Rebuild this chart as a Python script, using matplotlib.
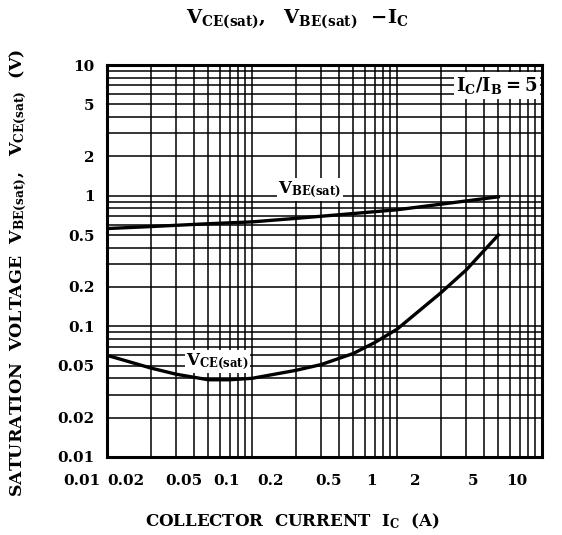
import matplotlib
matplotlib.use('Agg')
import matplotlib.pyplot as plt
import matplotlib.transforms as mtransforms
from matplotlib.ticker import FixedLocator, NullFormatter
import numpy as np

plt.rcParams['font.family'] = 'DejaVu Serif'
plt.rcParams['font.weight'] = 'bold'
plt.rcParams['mathtext.fontset'] = 'dejavuserif'

# collector current (A) and saturation voltages (V)
ic_vbe = [0.01, 0.02, 0.05, 0.1, 0.2, 0.5, 1, 2, 5]
vbe_sat = [0.56, 0.58, 0.61, 0.63, 0.67, 0.73, 0.78, 0.86, 0.98]

ic_vce = [0.01, 0.02, 0.03, 0.05, 0.07, 0.1, 0.2, 0.3, 0.5, 0.7, 1, 2, 3, 5]
vce_sat = [0.06, 0.048, 0.043, 0.039, 0.039, 0.040, 0.046, 0.051, 0.062, 0.075, 0.095, 0.18, 0.27, 0.5]

x_ticks = [0.01, 0.02, 0.05, 0.1, 0.2, 0.5, 1, 2, 5, 10]
x_labels = ['0.01', '0.02', '0.05', '0.1', '0.2', '0.5', '1', '2', '5', '10']
y_ticks = [0.01, 0.02, 0.05, 0.1, 0.2, 0.5, 1, 2, 5, 10]
y_labels = ['0.01', '0.02', '0.05', '0.1', '0.2', '0.5', '1', '2', '5', '10']

fig = plt.figure(figsize=(5.62, 5.35), dpi=100)
ax = fig.add_axes([0.1904, 0.1458, 0.7740, 0.7327])
ax.set_xscale('log')
ax.set_yscale('log')
ax.set_xlim(0.01, 10)
ax.set_ylim(0.01, 10)

ax.set_xticks(x_ticks)
ax.set_xticklabels(x_labels)
ax.set_yticks(y_ticks)
ax.set_yticklabels(y_labels)
minor = [m * 10.0 ** e for e in range(-2, 1) for m in range(1, 10)]
ax.xaxis.set_minor_locator(FixedLocator(minor))
ax.yaxis.set_minor_locator(FixedLocator(minor))
ax.xaxis.set_minor_formatter(NullFormatter())
ax.yaxis.set_minor_formatter(NullFormatter())
ax.tick_params(which='both', length=0, labelsize=11)
ax.tick_params(axis='x', pad=12)
ax.tick_params(axis='y', pad=9)

# datasheet scan has the x labels shifted left of their grid lines
shift = mtransforms.ScaledTranslation(-0.25, 0, fig.dpi_scale_trans)
for lab in ax.get_xticklabels():
    lab.set_transform(lab.get_transform() + shift)

ax.grid(True, which='both', color='black', linewidth=1.1)
for s in ax.spines.values():
    s.set_linewidth(2.2)

ax.plot(ic_vbe, vbe_sat, color='black', linewidth=2.4, zorder=4)
ax.plot(ic_vce, vce_sat, color='black', linewidth=2.4, zorder=4)

box = dict(facecolor='white', edgecolor='none', pad=1)
ax.text(0.25, 1.12, r'$\mathbf{V_{BE(sat)}}$', fontsize=12, ha='center', va='center',
        bbox=box, zorder=3)
ax.text(0.058, 0.054, r'$\mathbf{V_{CE(sat)}}$', fontsize=12, ha='center', va='center',
        bbox=box, zorder=3)
ax.text(0.99, 0.975, r'$\mathbf{I_C/I_B{=}5}$', fontsize=13, ha='right', va='top',
        transform=ax.transAxes, bbox=dict(facecolor='white', edgecolor='none', pad=2), zorder=3)

fig.text(0.53, 0.965, r'$\mathbf{V_{CE(sat)},\ \ V_{BE(sat)}\ \ {-}I_C}$', fontsize=14,
         ha='center', va='center')
fig.text(0.52, 0.025, r'COLLECTOR  CURRENT  $\mathbf{I_C}$  (A)', fontsize=12,
         ha='center', va='center', fontweight='bold')
fig.text(0.032, 0.49, r'SATURATION  VOLTAGE  $\mathbf{V_{BE(sat)},\ \ V_{CE(sat)}}$  (V)',
         fontsize=12.5, ha='center', va='center', rotation=90, fontweight='bold')

fig.savefig('out.png', dpi=100)
